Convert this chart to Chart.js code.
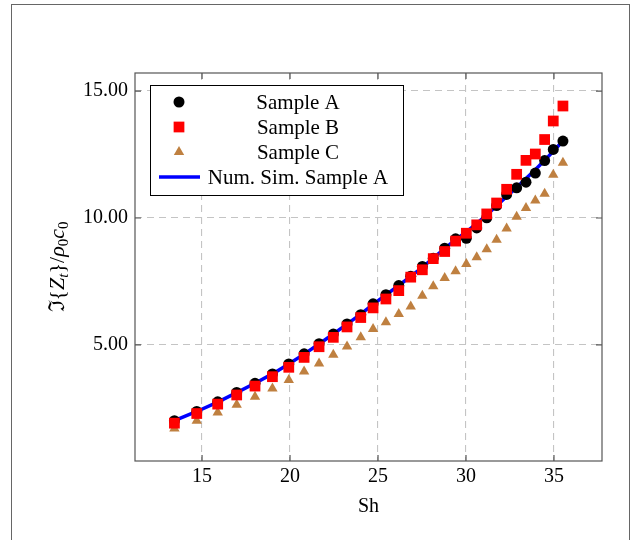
<!DOCTYPE html>
<html>
<head>
<meta charset="utf-8">
<script src="https://cdn.jsdelivr.net/npm/chart.js@4.4.0/dist/chart.umd.min.js"></script>
<style>
  html, body { margin: 0; padding: 0; background: #fff; }
  #wrap { position: relative; width: 633px; height: 540px; overflow: hidden; }
  #frame { position: absolute; left: 11px; top: 4px; width: 617px; height: 600px; border: 1.5px solid #666; }
  canvas { position: absolute; left: 0; top: 0; }
</style>
</head>
<body>
<div id="wrap">
  <div id="frame"></div>
  <canvas id="chart" width="633" height="540"></canvas>
</div>
<script>
// Datos
const shValues = [13.43, 14.70, 15.89, 16.97, 18.01, 19.00, 19.93, 20.80, 21.65, 22.46, 23.24, 24.02, 24.72, 25.45, 26.18, 26.86,
    27.52, 28.14, 28.79, 29.41, 30.02, 30.61, 31.18, 31.74, 32.31, 32.88, 33.41, 33.94, 34.47, 34.96, 35.51];
const sampleA = [2.02, 2.38, 2.76, 3.13, 3.49, 3.86, 4.25, 4.65, 5.05, 5.43, 5.83, 6.19, 6.62, 6.98, 7.34, 7.71,
    8.09, 8.41, 8.81, 9.18, 9.20, 9.61, 10.01, 10.49, 10.93, 11.19, 11.41, 11.77, 12.26, 12.70, 13.03];
const sampleB = [1.92, 2.30, 2.67, 3.03, 3.38, 3.75, 4.12, 4.51, 4.93, 5.30, 5.71, 6.08, 6.46, 6.81, 7.14, 7.67,
    7.96, 8.40, 8.68, 9.09, 9.40, 9.73, 10.16, 10.59, 11.13, 11.72, 12.27, 12.52, 13.09, 13.82, 14.41];
const sampleC = [1.71, 2.02, 2.34, 2.65, 2.96, 3.29, 3.62, 3.95, 4.27, 4.61, 4.94, 5.30, 5.63, 5.89, 6.22, 6.51,
    6.94, 7.31, 7.64, 7.90, 8.19, 8.45, 8.77, 9.14, 9.59, 10.05, 10.39, 10.69, 10.95, 11.70, 12.18];
const numSimA = [2.02, 2.38, 2.75, 3.12, 3.49, 3.86, 4.25, 4.64, 5.04, 5.43, 5.82, 6.21, 6.60, 6.97, 7.34, 7.70,
    8.06, 8.42, 8.80, 9.15, 9.45, 9.78, 10.12, 10.48, 10.85, 11.20, 11.55, 11.90, 12.27, 12.63, 13.03];
const seriesLabels = ['Sample A', 'Sample B', 'Sample C', 'Num. Sim. Sample A'];
const xTicks = [15, 20, 25, 30, 35];
const yTicks = [5, 10, 15];
const xTitle = 'Sh';

const fontFamily = '"Liberation Serif", "DejaVu Serif", serif';

const toPoints = ys => shValues.map((x, i) => ({ x: x, y: ys[i] }));

// Título del eje Y con subíndices: ℑ{Z_t}/ρ_0c_0
function drawYTitle(ctx, cx, cy) {
    const parts = [
        { t: 'ℑ', it: false }, { t: '{', it: false }, { t: 'Z', it: true }, { t: 't', it: true, sub: true },
        { t: '}', it: false }, { t: '/', it: false }, { t: 'ρ', it: true }, { t: '0', it: false, sub: true },
        { t: 'c', it: true }, { t: '0', it: false, sub: true }
    ];
    const fontFor = p => (p.it ? 'italic ' : '') + (p.sub ? '15px ' : '22px ') + fontFamily;
    let total = 0;
    parts.forEach(p => { ctx.font = fontFor(p); p.w = ctx.measureText(p.t).width; total += p.w; });
    ctx.save();
    ctx.translate(cx, cy);
    ctx.rotate(-Math.PI / 2);
    ctx.fillStyle = '#000';
    ctx.textBaseline = 'alphabetic';
    let x = -total / 2;
    parts.forEach(p => {
        ctx.font = fontFor(p);
        ctx.fillText(p.t, x, p.sub ? 11 : 7);
        x += p.w;
    });
    ctx.restore();
}

// Marco del área, marcas internas, leyenda y títulos (estilo pgfplots)
const pgfPlugin = {
    id: 'pgfStyle',
    afterDatasetsDraw(chart) {
        const { ctx, chartArea: a, scales } = chart;
        ctx.save();
        ctx.strokeStyle = '#555';
        ctx.lineWidth = 1.2;
        ctx.beginPath();
        xTicks.forEach(v => {
            const px = scales.x.getPixelForValue(v);
            ctx.moveTo(px, a.bottom); ctx.lineTo(px, a.bottom - 6);
            ctx.moveTo(px, a.top); ctx.lineTo(px, a.top + 6);
        });
        yTicks.forEach(v => {
            const py = scales.y.getPixelForValue(v);
            ctx.moveTo(a.left, py); ctx.lineTo(a.left + 6, py);
            ctx.moveTo(a.right, py); ctx.lineTo(a.right - 6, py);
        });
        ctx.stroke();
        ctx.strokeRect(a.left, a.top, a.right - a.left, a.bottom - a.top);
        ctx.restore();
    },
    afterDraw(chart) {
        const { ctx, chartArea: a } = chart;
        ctx.save();
        // leyenda
        ctx.fillStyle = '#fff';
        ctx.fillRect(150, 85, 253, 110);
        ctx.strokeStyle = '#000';
        ctx.lineWidth = 1;
        ctx.strokeRect(150.5, 85.5, 253, 110);
        const rows = [102, 127, 152, 177];
        chart.data.datasets.forEach((ds, i) => {
            const y = rows[i];
            if (ds.showLine) {
                ctx.strokeStyle = ds.borderColor;
                ctx.lineWidth = ds.borderWidth;
                ctx.beginPath();
                ctx.moveTo(159, y); ctx.lineTo(200, y);
                ctx.stroke();
            } else {
                ctx.fillStyle = ds.backgroundColor;
                ctx.strokeStyle = ds.backgroundColor;
                Chart.helpers.drawPoint(ctx, { pointStyle: ds.pointStyle, radius: ds.pointRadius, rotation: 0, borderWidth: 0 }, 179, y);
            }
            ctx.fillStyle = '#000';
            ctx.font = '21px ' + fontFamily;
            ctx.textAlign = 'center';
            ctx.textBaseline = 'middle';
            ctx.fillText(ds.label, 298, y + 1);
        });
        // títulos de ejes
        ctx.font = '20px ' + fontFamily;
        ctx.fillText(xTitle, (a.left + a.right) / 2, 507);
        ctx.restore();
        drawYTitle(ctx, 57, (a.top + a.bottom) / 2);
    }
};

const gridOpts = { color: '#c4c4c4', lineWidth: 1.1, drawTicks: false };
const borderOpts = { display: false, dash: [7, 5] };
const tickFont = { family: fontFamily, size: 20 };

new Chart(document.getElementById('chart').getContext('2d'), {
    type: 'scatter',
    data: {
        datasets: [
            { label: seriesLabels[0], data: toPoints(sampleA), pointStyle: 'circle', pointRadius: 5.5,
              backgroundColor: '#000000', borderColor: '#000000', borderWidth: 0, order: 2 },
            { label: seriesLabels[1], data: toPoints(sampleB), pointStyle: 'rect', pointRadius: 7.6,
              backgroundColor: '#ff0000', borderColor: '#ff0000', borderWidth: 0, order: 1 },
            { label: seriesLabels[2], data: toPoints(sampleC), pointStyle: 'triangle', pointRadius: 6,
              backgroundColor: '#bf8040', borderColor: '#bf8040', borderWidth: 0, order: 3 },
            { label: seriesLabels[3], data: toPoints(numSimA), showLine: true, pointRadius: 0,
              borderColor: '#0000ff', backgroundColor: '#0000ff', borderWidth: 3.5, fill: false, order: 4 }
        ]
    },
    options: {
        responsive: false,
        animation: false,
        devicePixelRatio: 1,
        layout: { padding: { top: 73, right: 31, left: 0, bottom: 0 } },
        plugins: { legend: { display: false }, tooltip: { enabled: false } },
        scales: {
            x: {
                type: 'linear', min: 11.19, max: 37.73,
                afterBuildTicks: s => { s.ticks = xTicks.map(v => ({ value: v })); },
                afterFit: s => { s.height = 79; },
                grid: gridOpts, border: borderOpts,
                ticks: { padding: 4, color: '#000', font: tickFont, maxRotation: 0, autoSkip: false }
            },
            y: {
                type: 'linear', min: 0.43, max: 15.71,
                afterBuildTicks: s => { s.ticks = yTicks.map(v => ({ value: v })); },
                afterFit: s => { s.width = 135; },
                grid: gridOpts, border: borderOpts,
                ticks: { padding: 7, color: '#000', font: tickFont, callback: v => v.toFixed(2) }
            }
        }
    },
    plugins: [pgfPlugin]
});
</script>
</body>
</html>
